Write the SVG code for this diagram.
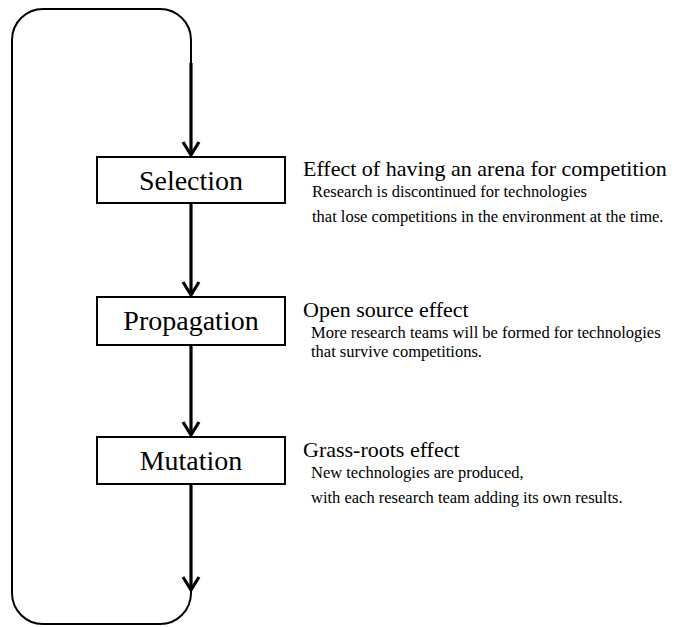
<svg xmlns="http://www.w3.org/2000/svg" width="678" height="627" viewBox="0 0 678 627">
<style>
.loop{fill:none;stroke:#000;stroke-width:2}
.flow{fill:none;stroke:#000;stroke-width:3.2}
.head{fill:none;stroke:#000;stroke-width:3.2;stroke-linejoin:miter}
.box{fill:#fff;stroke:#000;stroke-width:2}
.lbl{font-size:28px;fill:#000;text-anchor:middle}
.ttl{font-size:22px;fill:#000}
.sub{font-size:16.5px;fill:#000}
</style>
<g id="connectors">
<path class="loop" d="M191,63 V40 A31,31 0 0 0 160,9 H43 A31,31 0 0 0 12,40 V593 A31,31 0 0 0 43,624 H160 A31,31 0 0 0 191,593 V588"/>
<path class="flow" d="M191,63 V155"/>
<path class="head" d="M183,142 L191,155 L199,142"/>
<path class="flow" d="M191,203 V295"/>
<path class="head" d="M183,282 L191,295 L199,282"/>
<path class="flow" d="M191,345 V435"/>
<path class="head" d="M183,422 L191,435 L199,422"/>
<path class="flow" d="M191,484 V590"/>
<path class="head" d="M183,577 L191,590 L199,577"/>
</g>
<g font-family="'Liberation Serif', 'Times New Roman', serif">
<g id="selection">
<rect class="box" x="97" y="157" width="188" height="46"/>
<text class="lbl" x="191" y="190">Selection</text>
</g>
<g id="propagation">
<rect class="box" x="97" y="297" width="188" height="48"/>
<text class="lbl" x="191" y="330">Propagation</text>
</g>
<g id="mutation">
<rect class="box" x="97" y="437" width="188" height="47"/>
<text class="lbl" x="191" y="470">Mutation</text>
</g>
<g id="desc-selection">
<text class="ttl" x="303" y="176">Effect of having an arena for competition</text>
<text class="sub" x="312" y="197">Research is discontinued for technologies</text>
<text class="sub" x="312" y="222">that lose competitions in the environment at the time.</text>
</g>
<g id="desc-propagation">
<text class="ttl" x="303" y="317">Open source effect</text>
<text class="sub" x="311" y="338">More research teams will be formed for technologies</text>
<text class="sub" x="311" y="357">that survive competitions.</text>
</g>
<g id="desc-mutation">
<text class="ttl" x="303" y="457">Grass-roots effect</text>
<text class="sub" x="311" y="478">New technologies are produced,</text>
<text class="sub" x="311" y="503">with each research team adding its own results.</text>
</g>
</g>
</svg>
